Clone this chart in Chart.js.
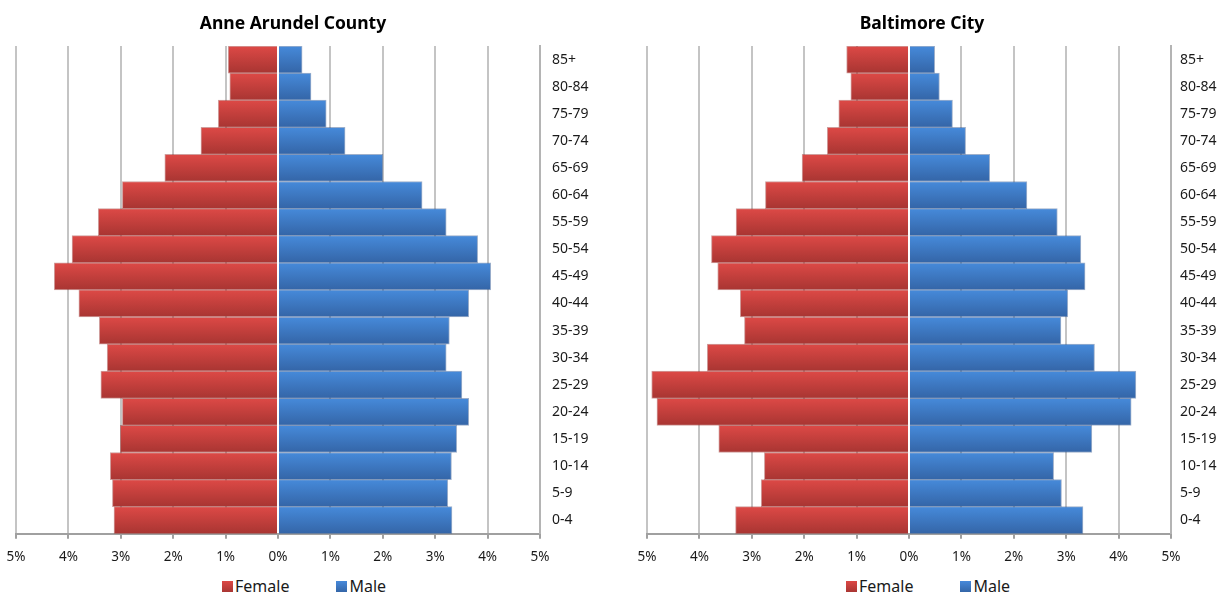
<!DOCTYPE html>
<html>
<head>
<meta charset="utf-8">
<script src="https://cdn.jsdelivr.net/npm/chart.js@4.4.1/dist/chart.umd.min.js"></script>
<style>
  body { margin: 0; background: #fff; width: 1229px; height: 594px; position: relative; overflow: hidden; font-family: "Noto Sans", sans-serif; }
  .box { position: absolute; top: 0; height: 575px; }
  #left { left: 0; width: 600px; }
  #right { left: 631px; width: 598px; }
  .legend { position: absolute; top: 575px; display: flex; align-items: center; font-size: 16px; color: #1a1a1a; line-height: 22px; }
  .legend .sw { width: 11px; height: 11px; margin-right: 2px; }
  .legend .item + .item { margin-left: 47px; }
  .legend .item { display: flex; align-items: center; }
  .f { background: linear-gradient(#dc4845, #a93633); }
  .m { background: linear-gradient(#4689da, #3466a8); }
</style>
</head>
<body>
<div class="box" id="left"><canvas id="c1"></canvas></div>
<div class="box" id="right"><canvas id="c2"></canvas></div>
<div class="legend" style="left:222px"><div class="item"><span class="sw f"></span>Female</div><div class="item"><span class="sw m"></span>Male</div></div>
<div class="legend" style="left:846px"><div class="item"><span class="sw f"></span>Female</div><div class="item"><span class="sw m"></span>Male</div></div>
<script>
// age groups, bottom to top
const ageGroups = ['0-4','5-9','10-14','15-19','20-24','25-29','30-34','35-39','40-44',
                   '45-49','50-54','55-59','60-64','65-69','70-74','75-79','80-84','85+'];

// percent of population (female shown to the left)
const anneFemale = [3.13,3.16,3.20,3.01,2.97,3.38,3.26,3.41,3.80,4.27,3.93,3.43,2.97,2.16,1.47,1.14,0.92,0.95];
const anneMale   = [3.32,3.24,3.31,3.41,3.64,3.51,3.21,3.27,3.64,4.06,3.81,3.21,2.75,2.00,1.28,0.92,0.63,0.46];
const baltFemale = [3.31,2.82,2.76,3.63,4.81,4.91,3.85,3.14,3.22,3.65,3.77,3.30,2.74,2.04,1.56,1.34,1.11,1.19];
const baltMale   = [3.32,2.91,2.76,3.49,4.24,4.33,3.54,2.90,3.03,3.36,3.28,2.83,2.25,1.54,1.08,0.83,0.58,0.49];

const xTicks = [-5,-4,-3,-2,-1,0,1,2,3,4,5];

// the y axis is kept narrow so the title centres like the original;
// let its labels run past the axis box instead of being clipped
const unclipLabels = {
  id: 'unclipLabels',
  afterLayout: chart => { chart.scales.y.right = chart.width; }
};

// vertical gradient per bar, like the Excel bevel fill
function barFill(top, bottom) {
  return ctx => {
    const chart = ctx.chart;
    const y = chart.scales.y;
    if (!y || ctx.type !== 'data') return top;
    const c = y.getPixelForValue(ctx.dataIndex);
    const h = Math.abs(y.getPixelForValue(1) - y.getPixelForValue(0));
    if (!isFinite(c) || !isFinite(h) || h === 0) return top;
    const g = chart.ctx.createLinearGradient(0, c - h / 2, 0, c + h / 2);
    g.addColorStop(0, top);
    g.addColorStop(1, bottom);
    return g;
  };
}

function pyramid(id, title, female, male, yWidth, padRight, labelPad) {
  new Chart(document.getElementById(id), {
    type: 'bar',
    plugins: [unclipLabels],
    data: {
      labels: ageGroups,
      datasets: [
        {
          label: 'Female',
          data: female.map(v => -v),
          backgroundColor: barFill('#dd4946', '#a83532'),
          borderColor: 'rgba(150,40,38,0.45)',
          borderWidth: 1
        },
        {
          label: 'Male',
          data: male,
          backgroundColor: barFill('#468ada', '#3465a7'),
          borderColor: 'rgba(40,80,140,0.45)',
          borderWidth: 1
        }
      ]
    },
    options: {
      indexAxis: 'y',
      responsive: true,
      maintainAspectRatio: false,
      animation: false,
      events: [],
      layout: { padding: { left: 16, right: padRight, top: 0, bottom: 0 } },
      datasets: { bar: { categoryPercentage: 1, barPercentage: 1 } },
      plugins: {
        legend: { display: false },
        tooltip: { enabled: false },
        title: {
          display: true,
          text: title,
          color: '#000',
          font: { family: 'Noto Sans', size: 17.5, weight: 'bold' },
          padding: { top: 14, bottom: 11 }
        }
      },
      scales: {
        x: {
          stacked: true,
          min: -5, max: 5,
          afterBuildTicks: s => { s.ticks = xTicks.map(v => ({ value: v })); },
          afterFit: s => { s.paddingLeft = 0; s.paddingRight = 0; },
          ticks: {
            color: '#1a1a1a',
            font: { family: 'Noto Sans', size: 13.5 },
            padding: 10,
            maxRotation: 0,
            callback: v => Math.abs(v) + '%'
          },
          grid: {
            color: ctx => ctx.tick && ctx.tick.value === 0 ? 'rgba(0,0,0,0)' : '#c4c4c4',
            lineWidth: 2,
            tickLength: 5,
            tickColor: '#a0a0a0'
          },
          border: { display: true, color: '#a0a0a0', width: 2 }
        },
        y: {
          stacked: true,
          position: 'right',
          reverse: true,
          afterFit: s => { s.width = yWidth; },
          ticks: {
            color: '#1a1a1a',
            font: { family: 'Noto Sans', size: 14 },
            padding: labelPad,
            crossAlign: 'near'
          },
          grid: { display: false, drawTicks: false },
          border: { display: true, color: '#b4b4b4', width: 2 }
        }
      }
    }
  });
}

pyramid('c1', 'Anne Arundel County', anneFemale, anneMale, 30, 30, 12);
pyramid('c2', 'Baltimore City', baltFemale, baltMale, 26, 32, 9);
</script>
</body>
</html>
